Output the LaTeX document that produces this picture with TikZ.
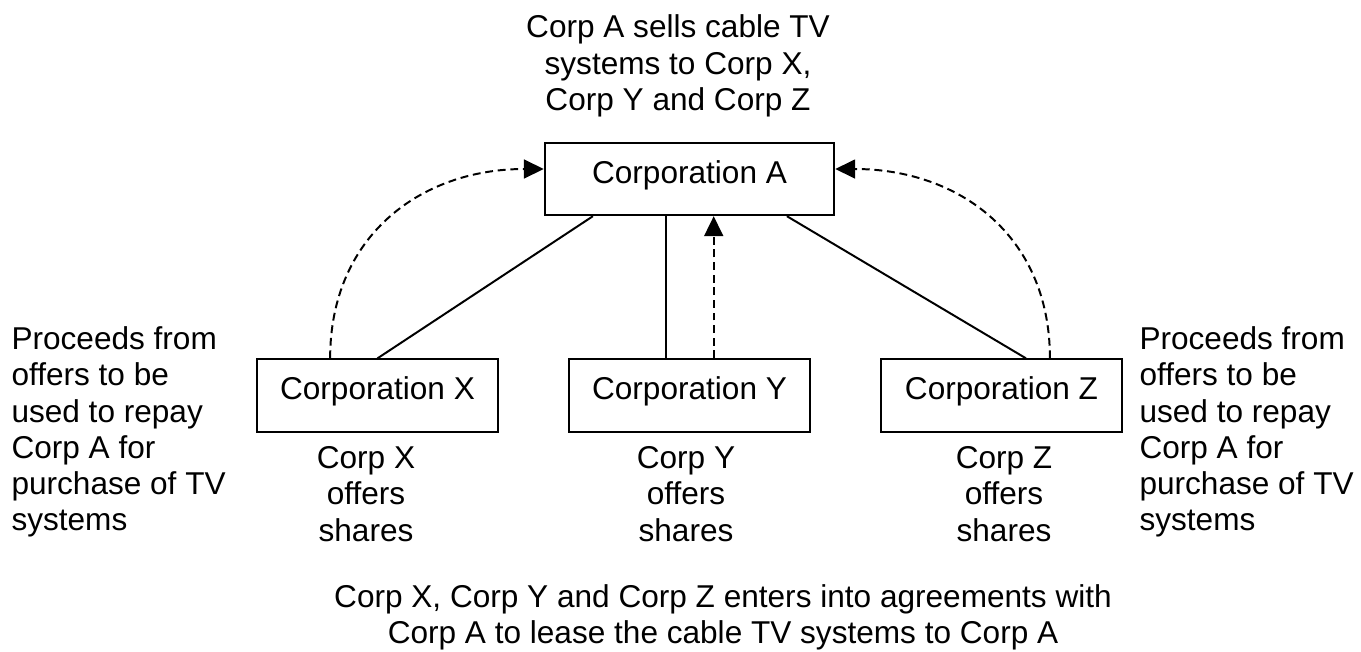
\documentclass[tikz,border=0pt]{standalone}
\usepackage{fontspec}
\setmainfont{Liberation Sans}
\usetikzlibrary{arrows.meta}

\begin{document}
\begin{tikzpicture}[x=0.38pt,y=0.38pt,
        font=\fontsize{12}{13.8}\selectfont,
        corp/.style={draw,black,line width=0.75pt,minimum height=27.5pt,inner sep=0pt,
            text height=8.6pt,text depth=5.3pt},
        note/.style={inner sep=0pt,align=center},
        side/.style={inner sep=0pt,align=left,anchor=west},
        link/.style={black,line width=0.75pt},
        flow/.style={black,line width=0.75pt,dash pattern=on 3pt off 1.8pt,
            -{Triangle[length=7.6pt,width=7.2pt]}}]
        \useasboundingbox (0,0) rectangle (1361,-651);
        % the four corporations
        \node [corp,minimum width=110pt] (A) at (689.5,-179) {Corporation A};
        \node [corp,minimum width=91.4pt] (X) at (377.5,-395.5) {Corporation X};
        \node [corp,minimum width=91.4pt] (Y) at (689.5,-395.5) {Corporation Y};
        \node [corp,minimum width=91.4pt] (Z) at (1001.5,-395.5) {Corporation Z};
        % texts
        \node [note] (sell) at (678,-66) {Corp A sells cable TV\\systems to Corp X,\\Corp Y and Corp Z};
        \node [side] (procL) at (11,-432) {Proceeds from\\offers to be\\used to repay\\Corp A for\\purchase of TV\\systems};
        \node [side] (procR) at (1139,-432) {Proceeds from\\offers to be\\used to repay\\Corp A for\\purchase of TV\\systems};
        \node [note] (offX) at (366,-494) {Corp X\\offers\\shares};
        \node [note] (offY) at (686,-494) {Corp Y\\offers\\shares};
        \node [note] (offZ) at (1004,-494) {Corp Z\\offers\\shares};
        \node [note] (lease) at (723,-617) {Corp X, Corp Y and Corp Z enters into agreements with\\Corp A to lease the cable TV systems to Corp A};
        % sale lines
        \draw [link] (X.north) -- ([xshift=-36.7pt]A.south);
        \draw [link] ([xshift=-9pt]Y.north) -- ([xshift=-9pt]A.south);
        \draw [link] ([xshift=9.3pt]Z.north) -- ([xshift=37pt]A.south);
        % repayments
        \draw [flow] ([xshift=9.2pt]Y.north) -- ([xshift=9.2pt]A.south);
        \draw [flow] ([xshift=-18pt]X.north) to[out=90,in=180,looseness=1.1] ([yshift=3.8pt]A.west);
        \draw [flow] ([xshift=18.4pt]Z.north) to[out=90,in=0,looseness=1.1] ([yshift=3.8pt]A.east);
\end{tikzpicture}
\end{document}
